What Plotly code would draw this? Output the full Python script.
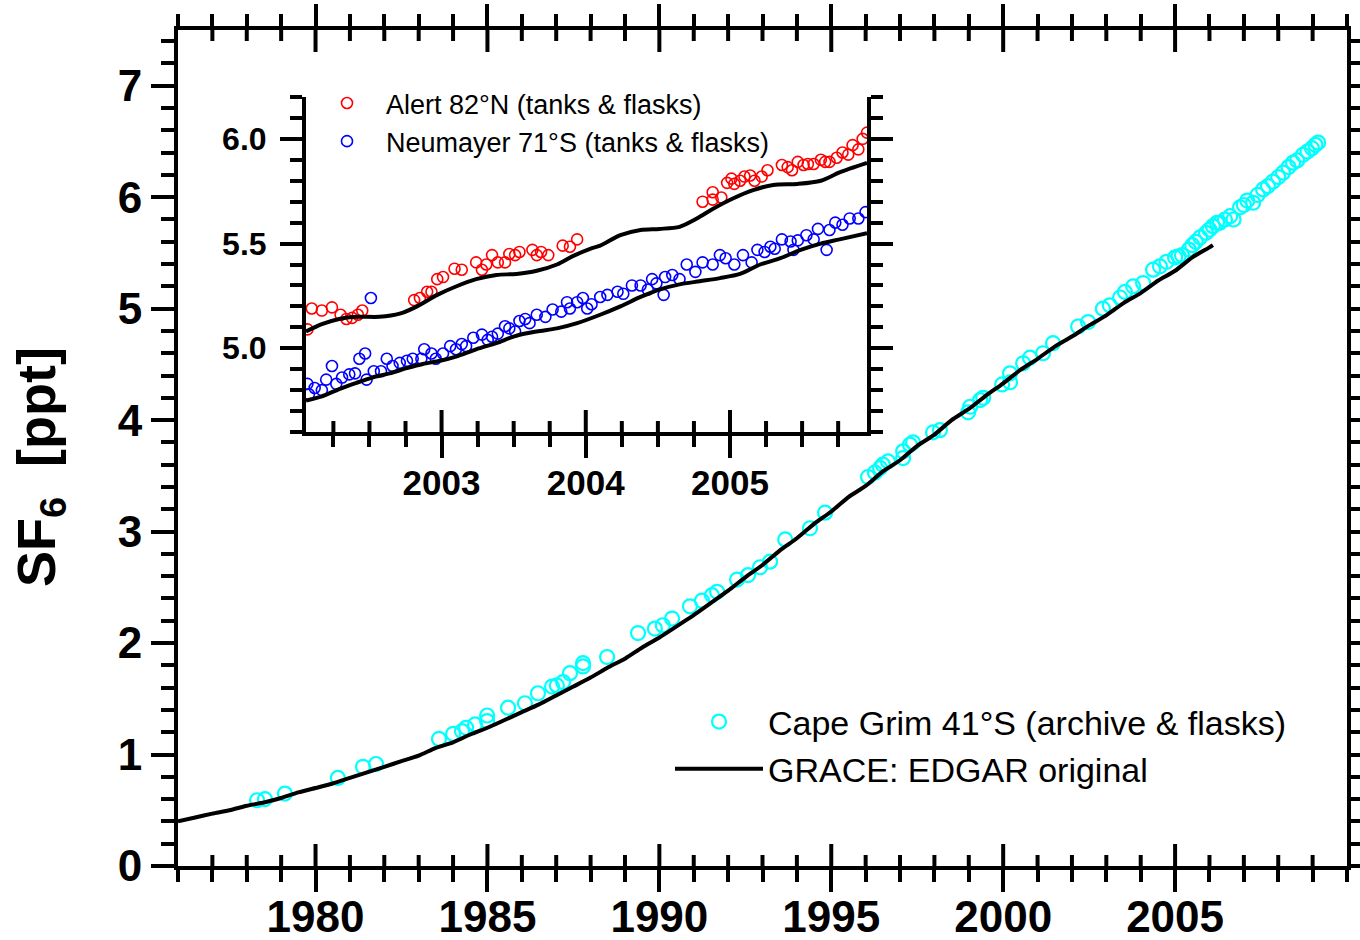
import plotly.graph_objects as go

# ---------------- main panel data ----------------
cg_year = [1978.30, 1978.53, 1979.11, 1980.65, 1981.38, 1981.76, 1983.59, 1984.00, 1984.26, 1984.38,
           1984.64, 1984.99, 1984.99, 1985.60, 1986.09, 1986.47, 1986.88, 1987.02, 1987.20, 1987.40,
           1987.78, 1987.78, 1988.48, 1989.38, 1989.87, 1990.10, 1990.37, 1990.89, 1991.24, 1991.53,
           1991.68, 1992.26, 1992.58, 1992.93, 1993.22, 1993.66, 1994.38, 1994.82, 1996.07, 1996.27,
           1996.42, 1996.50, 1996.65, 1997.09, 1997.09, 1997.29, 1997.38, 1997.96, 1998.16, 1998.98,
           1999.04, 1999.33, 1999.42, 1999.97, 2000.20, 2000.20, 2000.58, 2000.78, 2001.16, 2001.45,
           2002.18, 2002.47, 2002.90, 2003.10, 2003.40, 2003.54, 2003.78, 2004.07, 2004.36, 2004.56,
           2004.75, 2005.00, 2005.10, 2005.20, 2005.40, 2005.50, 2005.60, 2005.73, 2005.90, 2006.00,
           2006.10, 2006.22, 2006.30, 2006.45, 2006.60, 2006.70, 2006.89, 2007.00, 2007.10, 2007.27,
           2007.40, 2007.56, 2007.70, 2007.85, 2008.00, 2008.14, 2008.30, 2008.43, 2008.55, 2008.72,
           2008.85, 2008.98, 2009.08, 2009.16]
cg_val = [0.59, 0.60, 0.65, 0.79, 0.89, 0.915, 1.14, 1.185, 1.21, 1.24,
          1.27, 1.30, 1.35, 1.42, 1.46, 1.55, 1.61, 1.62, 1.65, 1.73,
          1.79, 1.82, 1.875, 2.09, 2.13, 2.16, 2.22, 2.33, 2.38, 2.43,
          2.46, 2.57, 2.61, 2.68, 2.73, 2.93, 3.03, 3.17, 3.49, 3.53,
          3.57, 3.60, 3.63, 3.66, 3.72, 3.78, 3.80, 3.89, 3.91, 4.07,
          4.12, 4.18, 4.20, 4.32, 4.34, 4.42, 4.51, 4.56, 4.60, 4.69,
          4.84, 4.88, 5.00, 5.03, 5.10, 5.15, 5.20, 5.23, 5.35, 5.38,
          5.42, 5.46, 5.47, 5.48, 5.53, 5.57, 5.60, 5.64, 5.68, 5.71,
          5.74, 5.77, 5.77, 5.80, 5.83, 5.80, 5.91, 5.93, 5.97, 5.95,
          6.02, 6.07, 6.10, 6.14, 6.18, 6.22, 6.27, 6.31, 6.33, 6.38,
          6.41, 6.44, 6.47, 6.49]

grace_year = [1976.0, 1976.5, 1977.0, 1977.5, 1978.0, 1978.5, 1979.0, 1979.5, 1980.0, 1980.5,
              1981.0, 1981.5, 1982.0, 1982.5, 1983.0, 1983.5, 1984.0, 1984.5, 1985.0, 1985.5,
              1986.0, 1986.5, 1987.0, 1987.5, 1988.0, 1988.5, 1989.0, 1989.5, 1990.0, 1990.5,
              1991.0, 1991.5, 1992.0, 1992.5, 1993.0, 1993.5, 1994.0, 1994.5, 1995.0, 1995.5,
              1996.0, 1996.5, 1997.0, 1997.5, 1998.0, 1998.5, 1999.0, 1999.5, 2000.0, 2000.5,
              2001.0, 2001.5, 2002.0, 2002.5, 2003.0, 2003.5, 2004.0, 2004.5, 2005.0, 2005.5,
              2006.0, 2006.1]
grace_val = [0.40, 0.435, 0.47, 0.50, 0.54, 0.57, 0.61, 0.66, 0.70, 0.74,
             0.79, 0.84, 0.89, 0.94, 0.99, 1.06, 1.11, 1.18, 1.24, 1.31,
             1.38, 1.45, 1.53, 1.61, 1.69, 1.78, 1.86, 1.96, 2.05, 2.15,
             2.25, 2.36, 2.47, 2.59, 2.70, 2.83, 2.94, 3.07, 3.18, 3.31,
             3.41, 3.54, 3.64, 3.77, 3.87, 4.00, 4.10, 4.22, 4.33, 4.45,
             4.55, 4.66, 4.75, 4.85, 4.94, 5.05, 5.14, 5.25, 5.34, 5.46,
             5.55, 5.57]

# ---------------- inset data ----------------
alert_x = [2002.07, 2002.10, 2002.17, 2002.24, 2002.30, 2002.34, 2002.38, 2002.42, 2002.45, 2002.81,
           2002.85, 2002.90, 2002.93, 2002.97, 2003.01, 2003.09, 2003.14, 2003.24, 2003.28, 2003.31,
           2003.35, 2003.39, 2003.44, 2003.47, 2003.51, 2003.54, 2003.63, 2003.66, 2003.69, 2003.74,
           2003.84, 2003.89, 2003.94,
           2004.81, 2004.88, 2004.88, 2004.94, 2004.98, 2005.01, 2005.03, 2005.07, 2005.10, 2005.14,
           2005.17, 2005.22, 2005.26, 2005.36, 2005.40, 2005.43, 2005.47, 2005.51, 2005.54, 2005.58,
           2005.63, 2005.66, 2005.69, 2005.74, 2005.78, 2005.82, 2005.85, 2005.89, 2005.92, 2005.95]
alert_y = [5.09, 5.19, 5.18, 5.195, 5.16, 5.14, 5.145, 5.16, 5.18, 5.23,
           5.24, 5.27, 5.27, 5.33, 5.34, 5.38, 5.375, 5.41, 5.375, 5.40,
           5.445, 5.41, 5.41, 5.45, 5.445, 5.46, 5.47, 5.445, 5.46, 5.445,
           5.49, 5.485, 5.52,
           5.70, 5.745, 5.71, 5.72, 5.79, 5.81, 5.785, 5.80, 5.82, 5.825,
           5.80, 5.82, 5.85, 5.875, 5.865, 5.85, 5.89, 5.875, 5.88, 5.88,
           5.90, 5.89, 5.89, 5.91, 5.935, 5.925, 5.97, 5.95, 6.00, 6.03]

neu_x = [2002.07, 2002.08, 2002.12, 2002.17, 2002.20, 2002.24, 2002.27, 2002.31, 2002.36, 2002.40,
         2002.43, 2002.47, 2002.48, 2002.51, 2002.53, 2002.58, 2002.62, 2002.66, 2002.71, 2002.76,
         2002.80, 2002.86, 2002.88, 2002.93, 2002.96, 2003.01, 2003.06, 2003.10, 2003.14, 2003.17,
         2003.22, 2003.28, 2003.32, 2003.35, 2003.39, 2003.44, 2003.47, 2003.51, 2003.54, 2003.58,
         2003.61, 2003.66, 2003.72, 2003.77, 2003.83, 2003.87, 2003.89, 2003.94, 2003.98, 2004.01,
         2004.04, 2004.10, 2004.15, 2004.22, 2004.26, 2004.32, 2004.38, 2004.43, 2004.46, 2004.49,
         2004.54, 2004.55, 2004.60, 2004.65, 2004.70, 2004.76, 2004.81, 2004.88, 2004.93, 2004.97,
         2005.03, 2005.09, 2005.15, 2005.19, 2005.24, 2005.28, 2005.31, 2005.36, 2005.42, 2005.44,
         2005.47, 2005.53, 2005.58, 2005.61, 2005.67, 2005.69, 2005.73, 2005.78, 2005.83, 2005.89,
         2005.94]
neu_y = [4.83, 4.78, 4.81, 4.80, 4.85, 4.915, 4.83, 4.86, 4.875, 4.88,
         4.95, 4.975, 4.85, 5.24, 4.89, 4.89, 4.95, 4.915, 4.93, 4.94,
         4.95, 4.95, 4.995, 4.975, 4.95, 4.975, 5.01, 4.995, 5.02, 5.01,
         5.05, 5.065, 5.04, 5.055, 5.07, 5.105, 5.095, 5.08, 5.13, 5.14,
         5.12, 5.16, 5.15, 5.185, 5.175, 5.22, 5.19, 5.22, 5.24, 5.19,
         5.21, 5.245, 5.255, 5.27, 5.26, 5.30, 5.30, 5.28, 5.33, 5.31,
         5.255, 5.34, 5.35, 5.33, 5.40, 5.365, 5.41, 5.40, 5.445, 5.43,
         5.40, 5.445, 5.41, 5.47, 5.46, 5.485, 5.475, 5.52, 5.51, 5.47,
         5.515, 5.54, 5.52, 5.57, 5.47, 5.565, 5.60, 5.59, 5.62, 5.62,
         5.65]

model_x = [2002.06, 2002.17, 2002.29, 2002.41, 2002.57, 2002.71, 2002.83, 2002.97, 2003.10, 2003.24,
           2003.38, 2003.52, 2003.66, 2003.80, 2003.91, 2004.03, 2004.10, 2004.24, 2004.38, 2004.51,
           2004.65, 2004.77, 2004.88, 2005.02, 2005.16, 2005.30, 2005.47, 2005.63, 2005.76, 2005.95]
alert_model = [5.08, 5.115, 5.14, 5.15, 5.15, 5.165, 5.20, 5.255, 5.295, 5.33,
               5.35, 5.355, 5.37, 5.40, 5.44, 5.475, 5.49, 5.54, 5.565, 5.57,
               5.58, 5.62, 5.665, 5.715, 5.755, 5.78, 5.785, 5.80, 5.84, 5.885]
neu_model_x = [2002.06, 2002.17, 2002.29, 2002.41, 2002.52, 2002.64, 2002.76, 2002.87, 2002.99, 2003.10,
               2003.24, 2003.38, 2003.52, 2003.66, 2003.80, 2003.94, 2004.10, 2004.24, 2004.38, 2004.51,
               2004.65, 2004.79, 2004.93, 2005.07, 2005.21, 2005.35, 2005.49, 2005.63, 2005.76, 2005.95]
neu_model = [4.75, 4.77, 4.805, 4.835, 4.86, 4.88, 4.905, 4.925, 4.94, 4.96,
             4.995, 5.025, 5.06, 5.08, 5.095, 5.12, 5.16, 5.20, 5.245, 5.28,
             5.305, 5.32, 5.335, 5.355, 5.40, 5.43, 5.47, 5.50, 5.52, 5.55]

main_xticks = [1980, 1985, 1990, 1995, 2000, 2005]
main_xminor = [y for y in range(1977, 2010) if y not in main_xticks]
inset_xticks = [2003, 2004, 2005]
inset_xminor = [2002.25, 2002.5, 2002.75, 2003.25, 2003.5, 2003.75,
                2004.25, 2004.5, 2004.75, 2005.25, 2005.5, 2005.75]
inset_yticks = [5.0, 5.5, 6.0]

W, H = 1360, 940
MAIN_L, MAIN_R, MAIN_T, MAIN_B = 178, 1347, 30, 866
INS_L, INS_R, INS_T, INS_B = 306, 867, 97, 432

def px_x(a, b):
    return [a / W, b / W]
def px_y(top, bottom):
    return [1 - bottom / H, 1 - top / H]

FONT = "Liberation Sans, Arial, sans-serif"
BOLD_TICK = dict(family=FONT, size=44, color="black", weight="bold")

fig = go.Figure()

fig.add_trace(go.Scatter(x=cg_year, y=cg_val, mode="markers", name="Cape Grim 41°S (archive & flasks)",
                         marker=dict(symbol="circle-open", size=14, color="#00FFFF", line=dict(width=2.2, color="#00FFFF")),
                         xaxis="x", yaxis="y", legend="legend"))
fig.add_trace(go.Scatter(x=grace_year, y=grace_val, mode="lines", name="GRACE: EDGAR original",
                         line=dict(color="black", width=4, shape="spline", smoothing=0.6),
                         xaxis="x", yaxis="y", legend="legend"))

fig.add_trace(go.Scatter(x=alert_x, y=alert_y, mode="markers", name="Alert 82°N (tanks & flasks)",
                         marker=dict(symbol="circle-open", size=11, color="#FF0000", line=dict(width=1.6, color="#FF0000")),
                         xaxis="x3", yaxis="y3", legend="legend2"))
fig.add_trace(go.Scatter(x=neu_x, y=neu_y, mode="markers", name="Neumayer 71°S (tanks & flasks)",
                         marker=dict(symbol="circle-open", size=11, color="#0000FF", line=dict(width=1.6, color="#0000FF")),
                         xaxis="x3", yaxis="y3", legend="legend2"))
fig.add_trace(go.Scatter(x=model_x, y=alert_model, mode="lines", showlegend=False,
                         line=dict(color="black", width=4, shape="spline", smoothing=0.8),
                         xaxis="x3", yaxis="y3"))
fig.add_trace(go.Scatter(x=neu_model_x, y=neu_model, mode="lines", showlegend=False,
                         line=dict(color="black", width=4, shape="spline", smoothing=0.8),
                         xaxis="x3", yaxis="y3"))

# inner halves of the x ticks that cross the axis lines, placed at the tick values
shapes = []
def inner_ticks(vals, xref, axis_px, length_px, upward=True):
    y_axis = 1 - axis_px / H
    y_end = y_axis + (length_px / H if upward else -length_px / H)
    for v in vals:
        shapes.append(dict(type="line", xref=xref, yref="paper", x0=v, x1=v, y0=y_axis, y1=y_end,
                           line=dict(color="black", width=4), layer="above"))

inner_ticks(main_xticks, "x", MAIN_B, 22, upward=True)
inner_ticks(main_xminor, "x", MAIN_B, 11, upward=True)
inner_ticks(main_xticks, "x", MAIN_T, 22, upward=False)
inner_ticks(main_xminor, "x", MAIN_T, 11, upward=False)
inner_ticks(inset_xticks, "x3", INS_B, 22, upward=True)
inner_ticks(inset_xminor, "x3", INS_B, 11, upward=True)

fig.update_layout(
    template="none",
    width=W, height=H, margin=dict(l=0, r=0, t=0, b=0, pad=0, autoexpand=False),
    paper_bgcolor="white", plot_bgcolor="rgba(0,0,0,0)",
    font=dict(family=FONT, color="black"),
    xaxis=dict(range=[1976, 2010], domain=px_x(MAIN_L, MAIN_R), anchor="y", showline=True, linewidth=4,
               linecolor="black", tickmode="array", tickvals=main_xticks, ticktext=[str(v) for v in main_xticks],
               ticks="outside", ticklen=22, tickwidth=4, tickcolor="black",
               tickfont=BOLD_TICK, ticklabelstandoff=-13, mirror="ticks",
               showgrid=False, zeroline=False, fixedrange=True, automargin=False,
               minor=dict(dtick=1, tick0=1976, ticks="outside", ticklen=12, tickwidth=4, tickcolor="black")),
    yaxis=dict(range=[0, 7.5], domain=px_y(MAIN_T, MAIN_B), anchor="x", showline=True, linewidth=4,
               linecolor="black", tickmode="linear", tick0=0, dtick=1, ticks="outside", ticklen=23, tickwidth=4,
               tickcolor="black", tickfont=BOLD_TICK, mirror="ticks", showgrid=False, zeroline=False,
               fixedrange=True, automargin=False,
               minor=dict(dtick=0.2, ticks="outside", ticklen=13, tickwidth=4, tickcolor="black")),
    xaxis3=dict(range=[2002.06, 2005.95], domain=px_x(INS_L, INS_R), anchor="y3", showline=True, linewidth=4,
                linecolor="black", tickmode="array", tickvals=inset_xticks, ticktext=[str(v) for v in inset_xticks],
                ticks="outside", ticklen=22, tickwidth=4, tickcolor="black",
                tickfont=dict(family=FONT, size=35, color="black", weight="bold"), ticklabelstandoff=-5,
                showgrid=False, zeroline=False, fixedrange=True, automargin=False,
                minor=dict(dtick=0.25, tick0=2002, ticks="outside", ticklen=11, tickwidth=4, tickcolor="black")),
    yaxis3=dict(range=[4.6, 6.2], domain=px_y(INS_T, INS_B), anchor="x3", showline=True, linewidth=4,
                linecolor="black", tickmode="array", tickvals=inset_yticks,
                ticktext=["%.1f" % v for v in inset_yticks],
                ticks="outside", ticklen=22, tickwidth=4, tickcolor="black",
                tickfont=dict(family=FONT, size=32, color="black", weight="bold"), ticklabelstandoff=7,
                mirror="ticks", showgrid=False, zeroline=False, fixedrange=True, automargin=False,
                minor=dict(dtick=0.1, tick0=4.6, ticks="outside", ticklen=12, tickwidth=4, tickcolor="black")),
    legend=dict(x=670 / W, y=1 - 693 / H, xanchor="left", yanchor="top", bgcolor="rgba(0,0,0,0)",
                font=dict(family=FONT, size=34, color="black"), itemwidth=88, tracegroupgap=0),
    legend2=dict(x=308 / W, y=1 - 79 / H, xanchor="left", yanchor="top", bgcolor="rgba(0,0,0,0)",
                 font=dict(family=FONT, size=27, color="black"), itemwidth=68, tracegroupgap=0),
    annotations=[dict(text="SF<sub>6</sub>  [ppt]", textangle=-90, x=40 / W, y=1 - 467 / H,
                      xref="paper", yref="paper", xanchor="center", yanchor="middle", showarrow=False,
                      font=dict(family=FONT, size=54, color="black", weight="bold"))],
    shapes=shapes,
    showlegend=True,
)

fig.write_html("out.html")
